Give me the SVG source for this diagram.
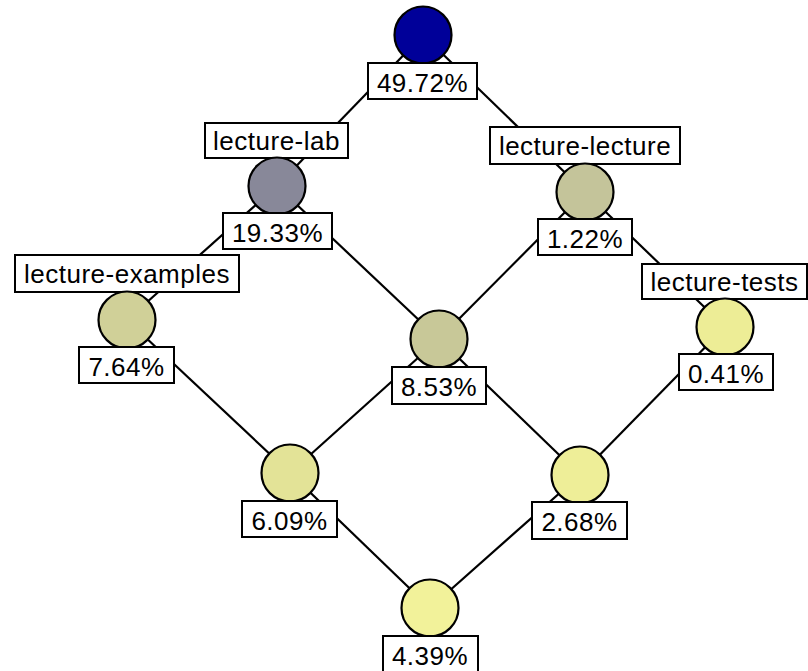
<svg xmlns="http://www.w3.org/2000/svg" width="808" height="671" viewBox="0 0 808 671">
<style>
  .edge { stroke: #000; stroke-width: 2.2; fill: none; }
  .node circle { stroke: #000; stroke-width: 2.2; }
  .box { fill: #fff; stroke: #000; stroke-width: 2; }
  .t { font-family: "Liberation Sans", Arial, sans-serif; font-size: 26px; letter-spacing: 0.5px; text-anchor: middle; fill: #000; }
</style>
<rect width="808" height="671" fill="#fff"/>
<g id="connectors">
  <line class="edge" x1="423" y1="35" x2="277" y2="186"/>
  <line class="edge" x1="423" y1="35" x2="585" y2="192"/>
  <line class="edge" x1="277" y1="186" x2="127" y2="320"/>
  <line class="edge" x1="277" y1="186" x2="439" y2="339"/>
  <line class="edge" x1="585" y1="192" x2="439" y2="339"/>
  <line class="edge" x1="585" y1="192" x2="725" y2="327"/>
  <line class="edge" x1="127" y1="320" x2="290" y2="473"/>
  <line class="edge" x1="439" y1="339" x2="290" y2="473"/>
  <line class="edge" x1="439" y1="339" x2="580" y2="475"/>
  <line class="edge" x1="725" y1="327" x2="580" y2="475"/>
  <line class="edge" x1="290" y1="473" x2="430" y2="608"/>
  <line class="edge" x1="580" y1="475" x2="430" y2="608"/>
</g>
<g id="n-top" class="node">
  <circle cx="423" cy="35" r="28.5" fill="#000099"/>
  <rect class="box" x="368" y="63" width="109" height="36"/>
  <text class="t" x="422.5" y="91.5">49.72%</text>
</g>
<g id="n-lab" class="node">
  <rect class="box" x="205" y="123" width="143" height="35"/>
  <text class="t" x="276.5" y="149.5">lecture-lab</text>
  <circle cx="277" cy="186" r="28.5" fill="#888899"/>
  <rect class="box" x="223" y="213" width="109" height="36"/>
  <text class="t" x="277.5" y="241.5">19.33%</text>
</g>
<g id="n-lecture" class="node">
  <rect class="box" x="490" y="127" width="190" height="37"/>
  <text class="t" x="585" y="154.5">lecture-lecture</text>
  <circle cx="585" cy="192" r="28.5" fill="#c4c49a"/>
  <rect class="box" x="538" y="219" width="94" height="36"/>
  <text class="t" x="585" y="247.5">1.22%</text>
</g>
<g id="n-tests" class="node">
  <rect class="box" x="642" y="264" width="165" height="35"/>
  <text class="t" x="724.5" y="290.5">lecture-tests</text>
  <circle cx="725" cy="327" r="28.5" fill="#eded96"/>
  <rect class="box" x="679" y="354" width="94" height="36"/>
  <text class="t" x="726" y="382.5">0.41%</text>
</g>
<g id="n-examples" class="node">
  <rect class="box" x="15" y="255" width="224" height="37"/>
  <text class="t" x="127" y="283">lecture-examples</text>
  <circle cx="127" cy="320" r="28.5" fill="#d0d098"/>
  <rect class="box" x="79" y="347" width="95" height="36"/>
  <text class="t" x="126.5" y="375.5">7.64%</text>
</g>
<g id="n-853" class="node">
  <circle cx="439" cy="339" r="28.5" fill="#c8c898"/>
  <rect class="box" x="392" y="367" width="94" height="37"/>
  <text class="t" x="439" y="395.5">8.53%</text>
</g>
<g id="n-609" class="node">
  <circle cx="290" cy="473" r="28.5" fill="#e3e397"/>
  <rect class="box" x="242" y="501" width="95" height="36"/>
  <text class="t" x="289.5" y="529.5">6.09%</text>
</g>
<g id="n-268" class="node">
  <circle cx="580" cy="475" r="28.5" fill="#eeee98"/>
  <rect class="box" x="532" y="502" width="95" height="37"/>
  <text class="t" x="579.5" y="530.5">2.68%</text>
</g>
<g id="n-439" class="node">
  <circle cx="430" cy="608" r="28.5" fill="#f2f29a"/>
  <rect class="box" x="383" y="636" width="95" height="37"/>
  <text class="t" x="430" y="664.5">4.39%</text>
</g>
</svg>
